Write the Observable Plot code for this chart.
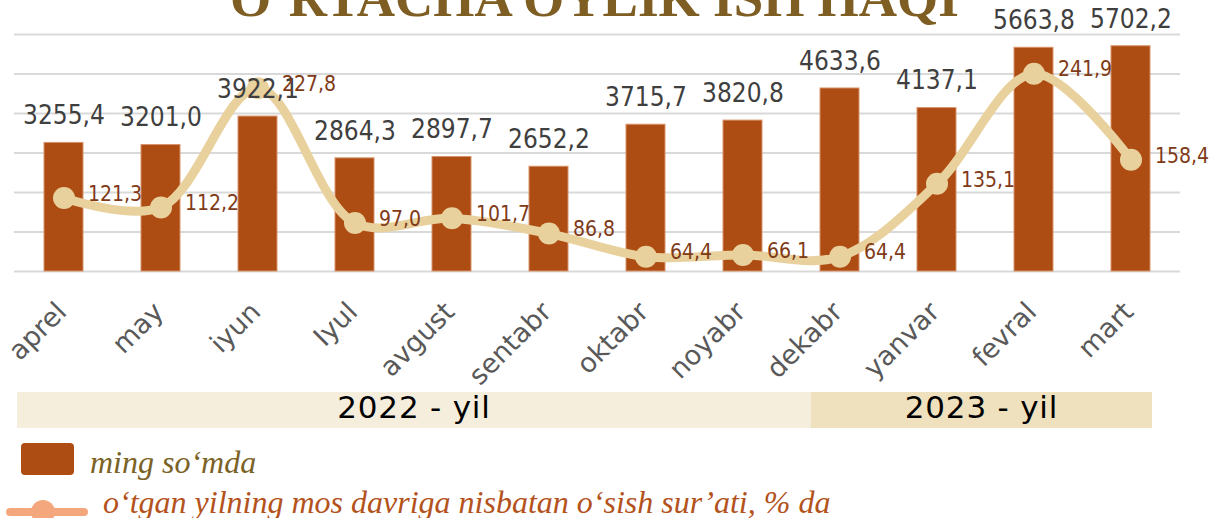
<!DOCTYPE html>
<html>
<head>
<meta charset="utf-8">
<script src="https://cdn.jsdelivr.net/npm/d3@7"></script>
<script src="https://cdn.jsdelivr.net/npm/@observablehq/plot@0.6"></script>
<style>
  body { margin: 0; background: #fff; }
  #wrap { position: relative; width: 1209px; height: 518px; overflow: hidden; background: #fff; }
  #chart { position: absolute; left: 0; top: 0; }
  #title { position: absolute; left: 230px; top: -28px; font: bold 53px "Liberation Serif", serif; line-height: 53px; color: #7E5E22; white-space: nowrap; }
  .year { position: absolute; top: 392px; height: 36px; text-align: center; font: 31px "DejaVu Sans", sans-serif; letter-spacing: 0.8px; line-height: 30px; color: #000; }
  .leg { position: absolute; white-space: nowrap; font: italic 32px "Liberation Serif", serif; line-height: 32px; }
</style>
</head>
<body>
<div id="wrap">
  <div id="title">O‘RTACHA OYLIK ISH HAQI</div>
  <div id="chart"></div>
  <div id="years"></div>
  <div id="legend">
    <div style="position:absolute;left:21px;top:443px;width:53px;height:32px;border-radius:4px;background:#AD4C13"></div>
    <div class="leg" id="leg1" style="left:90px;top:446px;color:#7B6226"></div>
    <div style="position:absolute;left:6px;top:508px;width:82px;height:8px;border-radius:4px;background:#F4A77C"></div>
    <div style="position:absolute;left:31px;top:500px;width:24px;height:24px;border-radius:12px;background:#F4A77C"></div>
    <div class="leg" id="leg2" style="left:103px;top:486px;color:#B4521C"></div>
  </div>
</div>
<script>
const months = ["aprel","may","iyun","Iyul","avgust","sentabr","oktabr","noyabr","dekabr","yanvar","fevral","mart"];
const salary = [3255.4, 3201.0, 3922.1, 2864.3, 2897.7, 2652.2, 3715.7, 3820.8, 4633.6, 4137.1, 5663.8, 5702.2];
const growth = [121.3, 112.2, 227.8, 97.0, 101.7, 86.8, 64.4, 66.1, 64.4, 135.1, 241.9, 158.4];
const salaryTicks = [0, 1000, 2000, 3000, 4000, 5000, 6000];
const growthDomain = [50, 280];
const years = ["2022 - yil", "2023 - yil"];
const legendLabels = ["ming so‘mda", "o‘tgan yilning mos davriga nisbatan o‘sish sur’ati, % da"];

const fmt = v => v.toFixed(1).replace(".", ",");
const data = months.map((m, i) => ({month: m, salary: salary[i], growth: growth[i]}));
const g2s = d3.scaleLinear(growthDomain, [0, 6000]);
const numFont = "'DejaVu Sans Condensed', 'DejaVu Sans', sans-serif";

const chart = Plot.plot({
  width: 1209,
  height: 390,
  marginTop: 34,
  marginBottom: 119,
  marginLeft: 14,
  marginRight: 29,
  style: {background: "transparent", overflow: "visible"},
  x: {domain: months, paddingInner: 0.6, paddingOuter: 0.3, axis: null},
  y: {domain: [0, 6000], axis: null},
  marks: [
    Plot.ruleY(salaryTicks, {stroke: "#D9D9D9", strokeWidth: 2}),
    Plot.barY(data, {x: "month", y: "salary", fill: "#AD4C13", stroke: "#D9936B", strokeWidth: 1}),
    Plot.line(data, {x: "month", y: d => g2s(d.growth), curve: "catmull-rom", stroke: "#E9D19D", strokeWidth: 9}),
    Plot.dot(data, {x: "month", y: d => g2s(d.growth), r: 11, fill: "#E9D19D"}),
    Plot.text(data, {x: "month", y: "salary", text: d => fmt(d.salary), dy: -27, fontSize: 26, fill: "#3F3F3F", fontFamily: numFont}),
    Plot.text(data, {x: "month", y: d => g2s(d.growth), text: d => fmt(d.growth), dx: 24, dy: -4, textAnchor: "start", fontSize: 21, fill: "#7F3A17", fontFamily: numFont}),
    Plot.text(months, {x: d => d, frameAnchor: "bottom", rotate: -45, textAnchor: "end", dx: 4, dy: 42, fontSize: 27, fill: "#595959", fontFamily: "'DejaVu Sans', sans-serif"})
  ]
});
document.getElementById("chart").appendChild(chart);

const yearsDiv = document.getElementById("years");
const yearStyles = [{left: 17, width: 794, bg: "#F6EEDD"}, {left: 811, width: 341, bg: "#EFE0BE"}];
years.forEach((t, i) => {
  const d = document.createElement("div");
  d.className = "year";
  d.style.left = yearStyles[i].left + "px";
  d.style.width = yearStyles[i].width + "px";
  d.style.background = yearStyles[i].bg;
  d.textContent = t;
  yearsDiv.appendChild(d);
});
document.getElementById("leg1").textContent = legendLabels[0];
document.getElementById("leg2").textContent = legendLabels[1];
</script>
</body>
</html>
